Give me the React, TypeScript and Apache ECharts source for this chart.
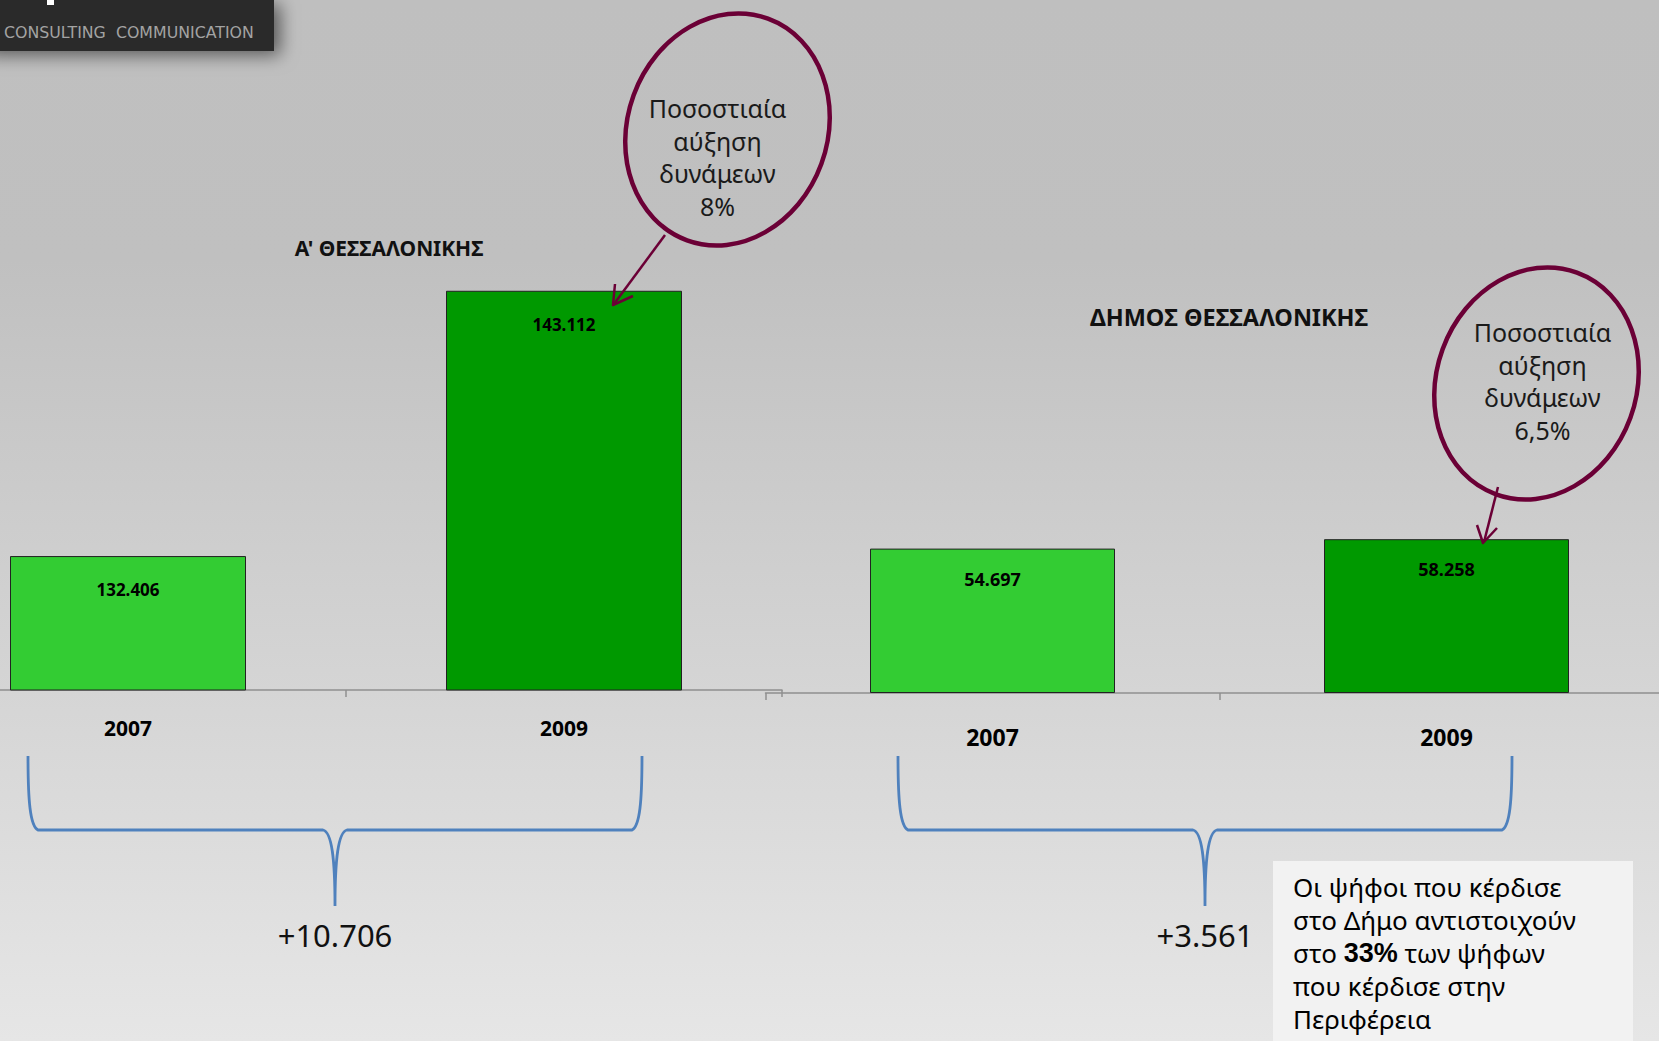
import React, { useEffect, useRef } from "react";
import * as echarts from "echarts";

const W = 1659;
const H = 1041;
const OX = 100; // canvas extends OX px beyond each side of the page

const years = ["2007", "2009"];
const regionValues = [132406, 143112];
const cityValues = [54697, 58258];
const barColors = ["#33cc33", "#009900"];
const regionTitle = "Α' ΘΕΣΣΑΛΟΝΙΚΗΣ";
const cityTitle = "ΔΗΜΟΣ ΘΕΣΣΑΛΟΝΙΚΗΣ";
const regionNote = ["Ποσοστιαία", "αύξηση", "δυνάμεων", "8%"];
const cityNote = ["Ποσοστιαία", "αύξηση", "δυνάμεων", "6,5%"];
const logoText = "CONSULTING  COMMUNICATION";

const FONT = "'Noto Sans', 'DejaVu Sans', sans-serif";
const fmt = (v: number) => String(v).replace(/\B(?=(\d{3})+(?!\d))/g, ".");

const BRACE =
  "M0 0 C0 44 2 70 10 74 L295 74 C304 76 307 104 307 150 C307 104 310 76 319 74 L604 74 C612 70 614 44 614 0";
let registered = false;

export default function App() {
  const ref = useRef<HTMLDivElement>(null);
  useEffect(() => {
    if (!registered) {
      echarts.graphic.registerShape("brace", echarts.graphic.extendPath(BRACE, {}));
      registered = true;
    }
    const chart = echarts.init(ref.current!, null, { renderer: "svg" });
    const CW = W + 2 * OX;
    const maroon = "#6b0036";
    const blue = "#4f81bd";
    const noteTexts = (lines: string[], cx: number, y0: number) =>
      lines.map((t, i) => ({
        type: "text",
        x: cx,
        y: y0 + i * 32.5,
        z: 30,
        style: { text: t, fontSize: 25, fontFamily: FONT, fill: "#1a1a1a", textAlign: "center", textVerticalAlign: "middle" },
      }));
    const axisCommon = (labelSize: number, margin: number) => ({
      type: "category",
      axisLine: { lineStyle: { color: "#8f8f8f", width: 1.5 } },
      axisTick: { show: true, length: 7, lineStyle: { color: "#8f8f8f", width: 1.5 } },
      axisLabel: { fontSize: labelSize, fontWeight: "bold", color: "#000", margin, fontFamily: FONT },
      splitLine: { show: false },
    });
    const seriesData = (vals: number[]) =>
      vals.map((v, i) => ({ value: v, itemStyle: { color: barColors[i] } }));
    const option: any = {
      animation: false,
      backgroundColor: "#cccccc",
      grid: [
        { left: OX - 90, right: CW - (OX + 782), top: 244, bottom: H - 690 },
        { left: OX + 765.5, right: CW - (OX + 1673.5), top: 165, bottom: H - 693 },
      ],
      xAxis: [
        { ...axisCommon(21, 27), gridIndex: 0, data: years },
        { ...axisCommon(23, 32), gridIndex: 1, data: years },
      ],
      yAxis: [
        { type: "value", gridIndex: 0, min: 127000, max: 145000, show: false },
        { type: "value", gridIndex: 1, min: 0, max: 200000, show: false },
      ],
      series: [
        {
          type: "bar",
          xAxisIndex: 0,
          yAxisIndex: 0,
          barWidth: 236,
          data: seriesData(regionValues),
          itemStyle: { borderColor: "#222", borderWidth: 1 },
          label: {
            show: true,
            position: "insideTop",
            distance: 25,
            formatter: (p: any) => fmt(p.value),
            fontSize: 17,
            fontWeight: "bold",
            color: "#000",
            fontFamily: FONT,
          },
        },
        {
          type: "bar",
          xAxisIndex: 1,
          yAxisIndex: 1,
          barWidth: 245,
          data: seriesData(cityValues),
          itemStyle: { borderColor: "#222", borderWidth: 1 },
          label: {
            show: true,
            position: "insideTop",
            distance: 21,
            formatter: (p: any) => fmt(p.value),
            fontSize: 18,
            fontWeight: "bold",
            color: "#000",
            fontFamily: FONT,
          },
        },
      ],
      graphic: [
        {
          type: "rect",
          z: -100,
          silent: true,
          shape: { x: 0, y: 0, width: CW, height: H },
          style: {
            fill: {
              type: "linear",
              x: 0,
              y: 0,
              x2: 0,
              y2: 1,
              colorStops: [
                { offset: 0, color: "#bfbfbf" },
                { offset: 0.25, color: "#c0c0c0" },
                { offset: 1, color: "#e6e6e6" },
              ],
            },
          },
        },
        {
          type: "group",
          x: OX,
          y: 0,
          children: [
            {
              type: "rect",
              z: 40,
              shape: { x: -20, y: 0, width: 294, height: 51 },
              style: { fill: "#2b2b2b", shadowBlur: 18, shadowColor: "rgba(0,0,0,0.55)", shadowOffsetX: 6, shadowOffsetY: 4 },
            },
            { type: "rect", z: 41, shape: { x: 47, y: 0, width: 7, height: 5 }, style: { fill: "#ffffff" } },
            {
              type: "text",
              x: 4,
              y: 32,
              z: 41,
              style: { text: logoText, fontSize: 15.8, fontFamily: "'DejaVu Sans', sans-serif", fill: "#a3a3a3", textVerticalAlign: "middle" },
            },
            {
              type: "text",
              x: 389,
              y: 248,
              z: 30,
              style: { text: regionTitle, fontSize: 21, fontWeight: "bold", fontFamily: FONT, fill: "#111", textAlign: "center", textVerticalAlign: "middle" },
            },
            {
              type: "text",
              x: 1229,
              y: 317,
              z: 30,
              style: { text: cityTitle, fontSize: 23.5, fontWeight: "bold", fontFamily: FONT, fill: "#111", textAlign: "center", textVerticalAlign: "middle" },
            },
            // left ellipse note
            {
              type: "ellipse",
              x: 727.5,
              y: 129.5,
              rotation: -0.35,
              z: 30,
              shape: { cx: 0, cy: 0, rx: 100, ry: 118 },
              style: { fill: "none", stroke: maroon, lineWidth: 4.5 },
            },
            ...noteTexts(regionNote, 717.5, 108),
            { type: "line", z: 30, shape: { x1: 665, y1: 235, x2: 614, y2: 304 }, style: { stroke: maroon, lineWidth: 2.5 } },
            {
              type: "polyline",
              z: 30,
              shape: { points: [[615, 284], [613, 305], [633, 296]] },
              style: { stroke: maroon, lineWidth: 2.5, fill: "none", lineJoin: "round" },
            },
            // right ellipse note
            {
              type: "ellipse",
              x: 1536.5,
              y: 383.5,
              rotation: -0.35,
              z: 30,
              shape: { cx: 0, cy: 0, rx: 100, ry: 118 },
              style: { fill: "none", stroke: maroon, lineWidth: 4.5 },
            },
            ...noteTexts(cityNote, 1542.5, 332),
            { type: "line", z: 30, shape: { x1: 1498, y1: 487, x2: 1484, y2: 542 }, style: { stroke: maroon, lineWidth: 2.5 } },
            {
              type: "polyline",
              z: 30,
              shape: { points: [[1477, 525], [1483, 543], [1497, 528]] },
              style: { stroke: maroon, lineWidth: 2.5, fill: "none", lineJoin: "round" },
            },
            // braces
            { type: "brace", x: 28, y: 756, z: 20, style: { fill: "none", stroke: blue, lineWidth: 2.8 } },
            { type: "brace", x: 898, y: 756, z: 20, style: { fill: "none", stroke: blue, lineWidth: 2.8 } },
            {
              type: "text",
              x: 335,
              y: 935,
              z: 30,
              style: { text: "+" + fmt(regionValues[1] - regionValues[0]), fontSize: 31, fontFamily: FONT, fill: "#111", textAlign: "center", textVerticalAlign: "middle" },
            },
            {
              type: "text",
              x: 1205,
              y: 935,
              z: 30,
              style: { text: "+" + fmt(cityValues[1] - cityValues[0]), fontSize: 31, fontFamily: FONT, fill: "#111", textAlign: "center", textVerticalAlign: "middle" },
            },
            // text box
            { type: "rect", z: 25, shape: { x: 1273, y: 861, width: 360, height: 190 }, style: { fill: "#f2f2f2" } },
            {
              type: "text",
              x: 1293,
              y: 870,
              z: 30,
              style: {
                text:
                  "{n|Οι ψήφοι που κέρδισε}\n{n|στο Δήμο αντιστοιχούν}\n{n|στο }{b|33%}{n| των ψήφων}\n{n|που κέρδισε στην}\n{n|Περιφέρεια}",
                textVerticalAlign: "top",
                rich: {
                  n: { fontSize: 26, lineHeight: 33, fontFamily: FONT, color: "#111" },
                  b: { fontSize: 27, lineHeight: 33, fontFamily: "'Liberation Sans', Arial, sans-serif", fontWeight: "bold", color: "#111" },
                },
              },
            },
          ],
        },
      ],
    };
    chart.setOption(option);
    return () => chart.dispose();
  }, []);
  return (
    <div
      ref={ref}
      style={{ position: "fixed", left: -OX, top: 0, width: W + 2 * OX, height: H }}
    />
  );
}
